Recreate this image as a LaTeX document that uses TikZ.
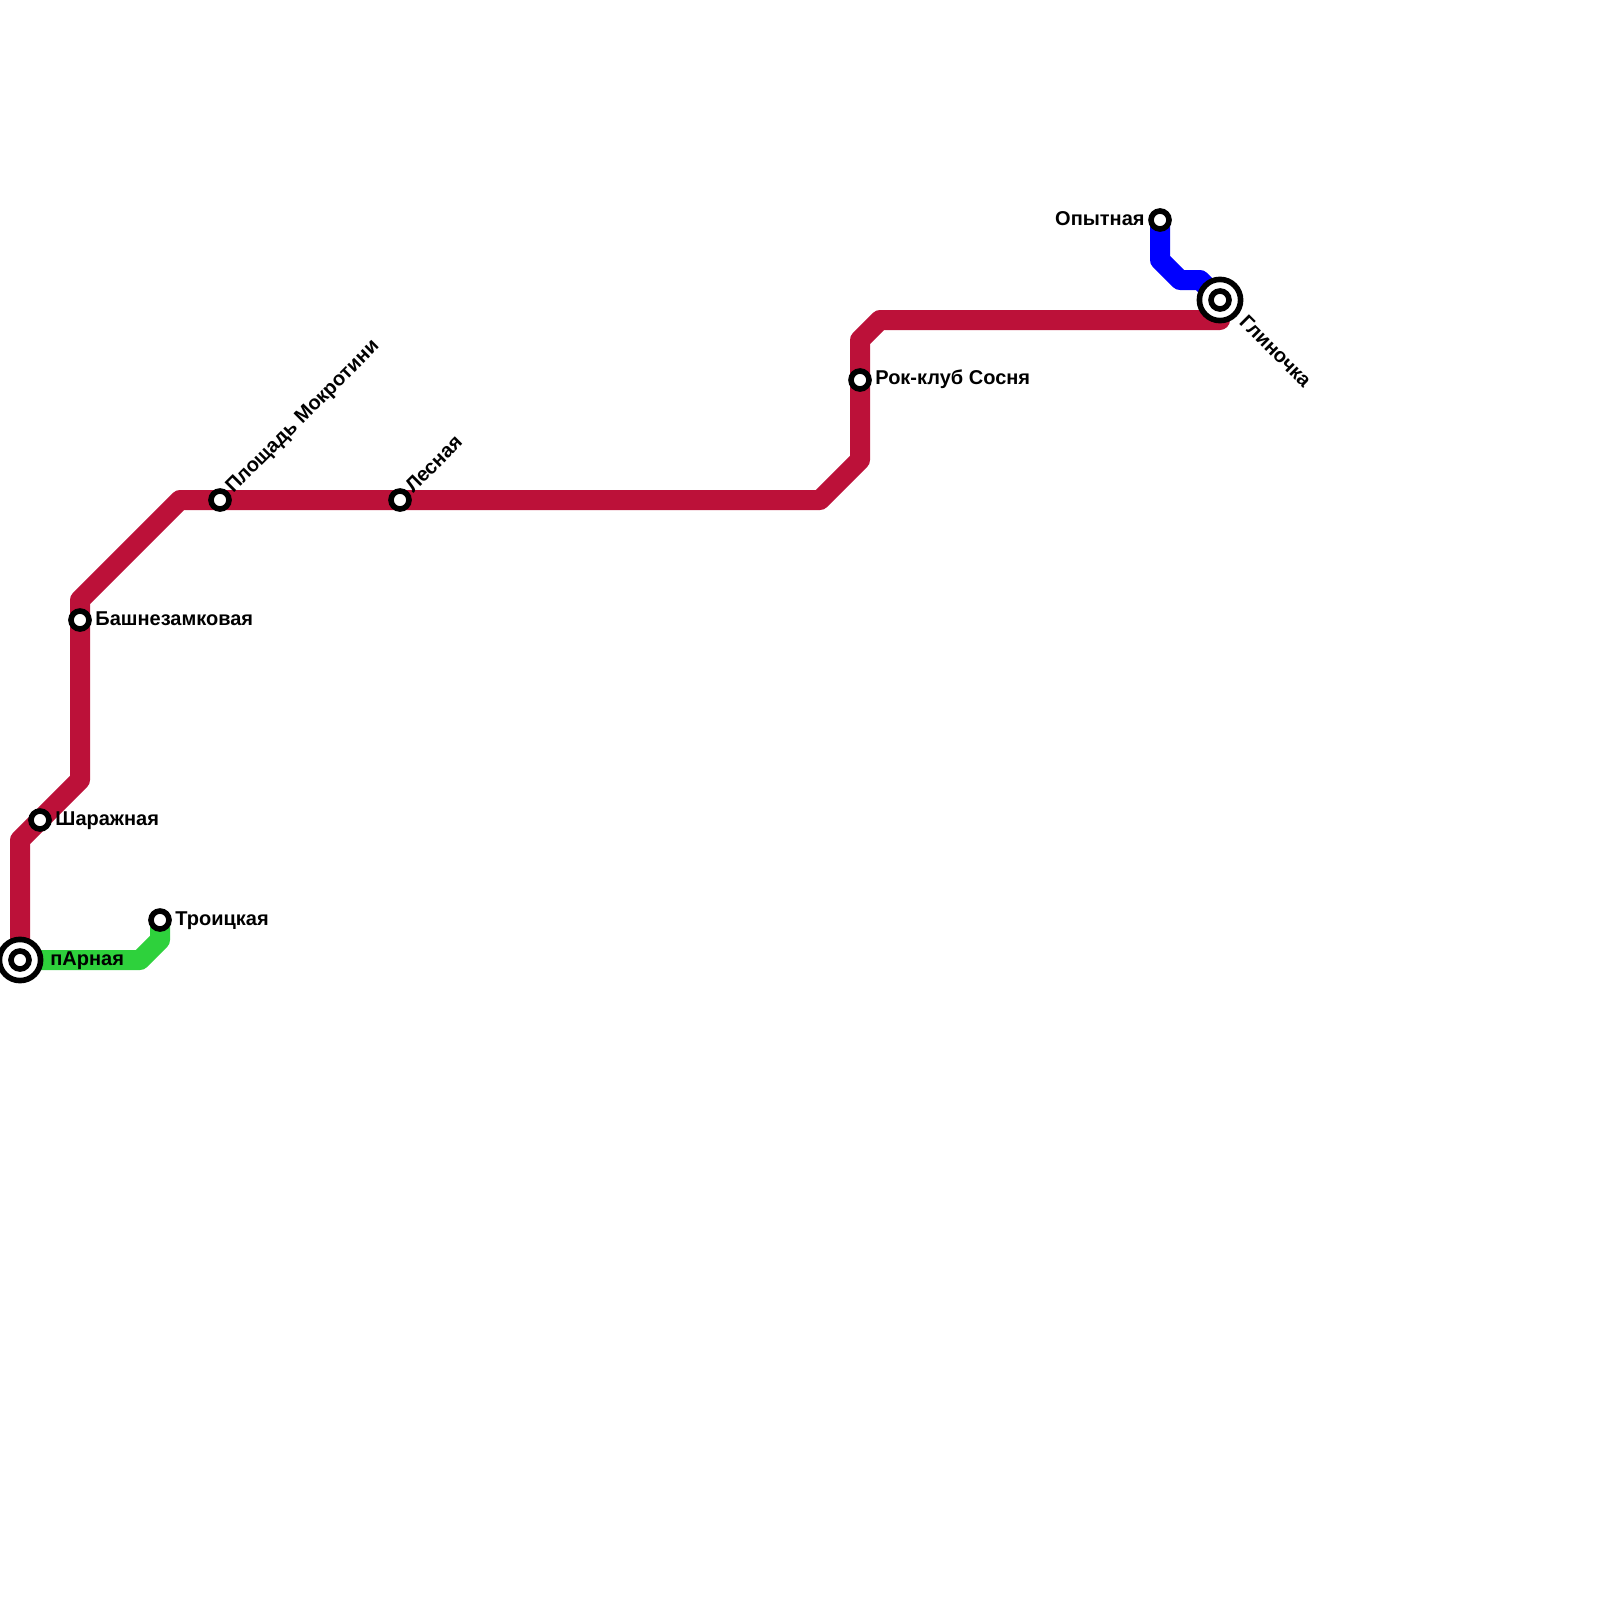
\documentclass[tikz,border=0pt]{standalone}
\usepackage{fontspec}
\setmainfont{Liberation Sans}[BoldFont={Liberation Sans Bold}]
\begin{document}
\begin{tikzpicture}[x=0.5pt,y=-0.5pt,
  metro/.style={line width=10pt,line join=round,line cap=round},
  stationdot/.style={circle,draw=black,fill=white,line width=2.8pt,minimum size=9pt,inner sep=0pt},
  hubdot/.style={circle,draw=black,fill=white,line width=2.8pt,minimum size=20.6pt,inner sep=0pt},
  lbl/.style={font=\bfseries\fontsize{10}{12}\selectfont,inner sep=0pt,text=black}]
\useasboundingbox (0,0) rectangle (1600,1600);
\coordinate (r1) at (20,840);
\coordinate (r2) at (80,780);
\coordinate (r3) at (80,600);
\coordinate (r4) at (180,500);
\coordinate (r5) at (820,500);
\coordinate (r6) at (860,460);
\coordinate (r7) at (860,340);
\coordinate (r8) at (880,320);
\coordinate (r9) at (1220,320);
\coordinate (g1) at (140,960);
\coordinate (g2) at (160,940);
\coordinate (b1) at (1160,260);
\coordinate (b2) at (1180,280);
\coordinate (b3) at (1200,280);
\coordinate (parnaya) at (20,960);
\coordinate (glin) at (1220,300);
\coordinate (troick) at (160,920);
\coordinate (opyt) at (1160,220);
\draw[metro,color={rgb,255:red,188;green,17;blue,57}] (parnaya) -- (r1) -- (r2) -- (r3) -- (r4) -- (r5) -- (r6) -- (r7) -- (r8) -- (r9) -- (glin);
\draw[metro,color={rgb,255:red,46;green,209;blue,60}] (parnaya) -- (g1) -- (g2) -- (troick);
\draw[metro,color={rgb,255:red,0;green,0;blue,255}] (opyt) -- (b1) -- (b2) -- (b3) -- (glin);
\node[hubdot] (hubA) at (parnaya) {};
\node[stationdot] (stA) at (parnaya) {};
\node[hubdot] (hubB) at (glin) {};
\node[stationdot] (stB) at (glin) {};
\node[stationdot] (stC) at (40,820) {};
\node[stationdot] (stD) at (80,620) {};
\node[stationdot] (stE) at (220,500) {};
\node[stationdot] (stF) at (400,500) {};
\node[stationdot] (stG) at (860,380) {};
\node[stationdot] (stH) at (160,920) {};
\node[stationdot] (stI) at (1160,220) {};
\node[lbl,anchor=base west] (tA) at (50,965) {пАрная};
\node[lbl,anchor=base west] (tC) at (55,825) {Шаражная};
\node[lbl,anchor=base west] (tD) at (95,625) {Башнезамковая};
\node[lbl,anchor=base west] (tG) at (875,384) {Рок-клуб Сосня};
\node[lbl,anchor=base west] (tH) at (175,925) {Троицкая};
\node[lbl,anchor=base east] (tI) at (1145,225) {Опытная};
\node[lbl,anchor=base west,rotate=45] (tE) at (233,494) {Площадь Мокротини};
\node[lbl,anchor=base west,rotate=45] (tF) at (413,494) {Лесная};
\node[lbl,anchor=base west,rotate=-45] (tB) at (1238,323) {Глиночка};
\end{tikzpicture}
\end{document}
